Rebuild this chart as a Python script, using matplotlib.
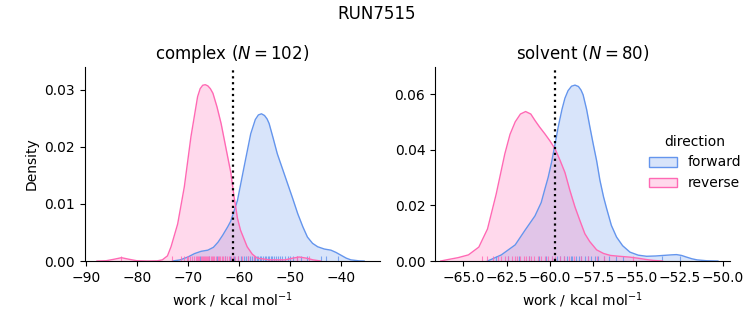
import numpy as np
import matplotlib
matplotlib.use("Agg")
import matplotlib.pyplot as plt
from matplotlib.patches import Patch

# ---------------- data ----------------
title = "RUN7515"
panels = ["complex", "solvent"]
n_samples = [102, 80]
directions = ["forward", "reverse"]
colors = {"forward": "#6495ED", "reverse": "#FF69B4"}

# KDE curves (x = work, y = density)
complex_fwd_x = [-73.0, -71.5, -70.0, -68.7, -67.4, -66.1, -65.0, -64.1, -63.2, -62.2, -61.6, -60.9,
                 -60.3, -59.0, -57.7, -56.8, -56.2, -55.6, -55.0, -54.5, -54.1, -53.3, -52.5, -51.5, -50.5, -49.5,
                 -48.5, -47.5, -46.6, -45.6, -44.6, -43.3, -42.0, -41.0, -40.0, -39.0, -38.1, -36.5, -35.5]
complex_fwd_y = [0.0, 0.0002, 0.0007, 0.0013, 0.0017, 0.0019, 0.0024, 0.0033, 0.0045, 0.0060, 0.0070, 0.0089,
                 0.0106, 0.0165, 0.0223, 0.0248, 0.0256, 0.0258, 0.0255, 0.0249, 0.0241, 0.0215, 0.0188, 0.0162, 0.0136, 0.0110,
                 0.0083, 0.0060, 0.0042, 0.0031, 0.0025, 0.0021, 0.0019, 0.0015, 0.0010, 0.0005, 0.0002, 0.00003, 0.0]

complex_rev_x = [-87.8, -86.0, -84.5, -83.0, -81.5, -80.0, -78.0, -76.0, -75.0, -74.0, -73.3, -72.0,
                 -70.7, -69.4, -68.1, -67.6, -67.1, -66.6, -66.1, -65.6, -65.1, -64.3, -63.5, -62.2, -61.6, -61.0,
                 -60.3, -59.7, -58.4, -57.4, -56.4, -54.0, -51.0, -49.5, -48.2, -46.8, -45.5, -44.0]
complex_rev_y = [0.0, 0.00005, 0.0003, 0.00058, 0.0003, 0.00005, 0.0, 0.00003, 0.0002, 0.0009, 0.0025, 0.0065,
                 0.0130, 0.0218, 0.0288, 0.0302, 0.0308, 0.0309, 0.0307, 0.0302, 0.0294, 0.0270, 0.0241, 0.0182, 0.0155, 0.0115,
                 0.0075, 0.0054, 0.0025, 0.0012, 0.0005, 0.0002, 0.0002, 0.0005, 0.0007, 0.0005, 0.0002, 0.0]

solvent_fwd_x = [-63.6, -63.3, -62.8, -62.4, -62.0, -61.44, -60.86, -60.5, -60.29, -60.1, -59.9, -59.7,
                 -59.52, -59.3, -59.13, -58.95, -58.75, -58.55, -58.35, -58.2, -58.08, -57.88, -57.7, -57.5, -57.3, -57.11,
                 -56.9, -56.73, -56.45, -56.15, -55.8, -55.38, -54.9, -54.42, -53.9, -53.46, -53.0, -52.69,
                 -52.4, -52.11, -51.8, -51.5, -50.96, -50.3]
solvent_fwd_y = [0.0, 0.0008, 0.0022, 0.0040, 0.0058, 0.0110, 0.0162, 0.0210, 0.0258, 0.0300, 0.0355, 0.0420,
                 0.0481, 0.0545, 0.0585, 0.0612, 0.0628, 0.0632, 0.0627, 0.0614, 0.0597, 0.0545, 0.0485, 0.0421, 0.0360, 0.0290,
                 0.0230, 0.0190, 0.0128, 0.0086, 0.0055, 0.0032, 0.0021, 0.0017, 0.0018, 0.0020, 0.0022, 0.0023,
                 0.0020, 0.0014, 0.0008, 0.0004, 0.0001, 0.0]

solvent_rev_x = [-66.3, -65.9, -65.3, -64.7, -64.1, -63.6, -63.1, -62.6, -62.3, -62.0, -61.7, -61.4,
                 -61.1, -60.86, -60.6, -60.29, -60.0, -59.7, -59.4, -59.13, -58.85, -58.55, -58.27, -57.98,
                 -57.7, -57.3, -56.9, -56.5, -56.0, -55.4, -54.9, -54.4, -54.0, -53.5]
solvent_rev_y = [0.0, 0.0005, 0.0012, 0.0022, 0.0050, 0.0115, 0.0240, 0.0385, 0.0455, 0.0500, 0.0528, 0.0537,
                 0.0528, 0.0505, 0.0482, 0.0457, 0.0432, 0.0403, 0.0360, 0.0318, 0.0255, 0.0194, 0.0146, 0.0098,
                 0.0070, 0.0040, 0.0027, 0.0020, 0.0017, 0.0014, 0.0010, 0.0005, 0.0002, 0.0]

# Rug (individual work values)
complex_fwd_rug = [-67.6, -65.9, -64.3, -62.8, -61.7, -60.9, -60.2, -59.6, -59.1, -58.6, -58.2, -57.8,
                   -57.4, -57.1, -56.8, -56.5, -56.2, -55.9, -55.6, -55.3, -55.0, -54.7, -54.4, -54.1,
                   -53.8, -53.5, -53.1, -52.7, -52.3, -51.9, -51.5, -51.0, -50.5, -50.0, -49.4, -48.7,
                   -47.9, -46.6, -44.0, -43.0, -40.7]
complex_rev_rug = [-83.0, -73.1, -71.4, -70.8, -70.2, -69.9, -69.5, -69.1, -68.8, -68.5, -68.3, -68.0,
                   -67.8, -67.5, -67.3, -67.1, -66.9, -66.7, -66.5, -66.2, -66.0, -65.8, -65.5, -65.3,
                   -65.0, -64.8, -64.5, -64.2, -64.0, -63.7, -63.4, -63.1, -62.8, -62.4, -62.0, -61.6,
                   -61.2, -60.7, -60.1, -59.4, -58.3, -57.1, -48.6, -46.2]
solvent_fwd_rug = [-63.1, -62.4, -61.8, -61.2, -60.6, -60.2, -59.9, -59.6, -59.4, -59.2, -59.0, -58.8,
                   -58.7, -58.5, -58.3, -58.2, -58.0, -57.8, -57.6, -57.4, -57.2, -56.9, -56.6, -56.2,
                   -55.8, -53.5, -52.5]
solvent_rev_rug = [-63.9, -63.6, -63.3, -63.0, -62.8, -62.6, -62.4, -62.2, -62.0, -61.9, -61.7, -61.5,
                   -61.4, -61.2, -61.1, -60.9, -60.7, -60.5, -60.3, -60.1, -59.9, -59.7, -59.4, -59.2,
                   -58.9, -58.6, -58.2, -57.8, -57.3, -56.9, -55.2]

# vertical reference lines (free energy estimate)
ref_lines = [-61.1, -59.71]

# tick labels / axis settings
complex_xticks = [-90, -80, -70, -60, -50, -40]
complex_yticks = [0.0, 0.01, 0.02, 0.03]
solvent_xticks = [-65.0, -62.5, -60.0, -57.5, -55.0, -52.5, -50.0]
solvent_yticks = [0.0, 0.02, 0.04, 0.06]

# ---------------- plot ----------------
fig = plt.figure(figsize=(7.53, 3.25), dpi=100)
ax1 = fig.add_axes([0.1125, 0.1969, 0.3921, 0.5969])
ax2 = fig.add_axes([0.5777, 0.1969, 0.3918, 0.5969])

curves = {
    0: {"forward": (complex_fwd_x, complex_fwd_y, complex_fwd_rug),
        "reverse": (complex_rev_x, complex_rev_y, complex_rev_rug)},
    1: {"forward": (solvent_fwd_x, solvent_fwd_y, solvent_fwd_rug),
        "reverse": (solvent_rev_x, solvent_rev_y, solvent_rev_rug)},
}
lims = [((-90.2, -32.4), (0, 0.0340)), ((-66.63, -49.6), (0, 0.0697))]
xticks = [complex_xticks, solvent_xticks]
yticks = [complex_yticks, solvent_yticks]
yfmt = ["{:.2f}", "{:.2f}"]
xfmt = ["{:.0f}", "{:.1f}"]

for i, ax in enumerate([ax1, ax2]):
    for d in directions:
        x, y, rug = curves[i][d]
        c = colors[d]
        ax.fill_between(x, y, 0, color=c, alpha=0.25, linewidth=0)
        ax.plot(x, y, color=c, lw=1.0)
        ax.vlines(rug, 0, 0.025, transform=ax.get_xaxis_transform(),
                  color=c, lw=0.8, alpha=0.8)
    ax.axvline(ref_lines[i], color="k", ls=":", lw=1.6)
    ax.set_xlim(*lims[i][0])
    ax.set_ylim(*lims[i][1])
    ax.set_xticks(xticks[i])
    ax.set_xticklabels([xfmt[i].format(v).replace("-", "\u2212") for v in xticks[i]])
    ax.set_yticks(yticks[i])
    ax.set_yticklabels([yfmt[i].format(v) for v in yticks[i]])
    ax.spines["top"].set_visible(False)
    ax.spines["right"].set_visible(False)
    ax.set_title(f"{panels[i]} ($N = {n_samples[i]}$)", fontsize=12)
    ax.set_xlabel(r"work / kcal mol$^{-1}$")
    ax.tick_params(labelsize=10)

ax1.set_ylabel("Density")

fig.suptitle(title, fontsize=12, y=0.985)

handles = []
for d in directions:
    p = Patch(facecolor=matplotlib.colors.to_rgba(colors[d], 0.25),
              edgecolor=colors[d], linewidth=1.0)
    handles.append(p)
leg = fig.legend(handles, directions, title="direction", loc="center left",
                 bbox_to_anchor=(0.845, 0.50), frameon=False, fontsize=10,
                 title_fontsize=10)

fig.savefig("out.png", dpi=100)
